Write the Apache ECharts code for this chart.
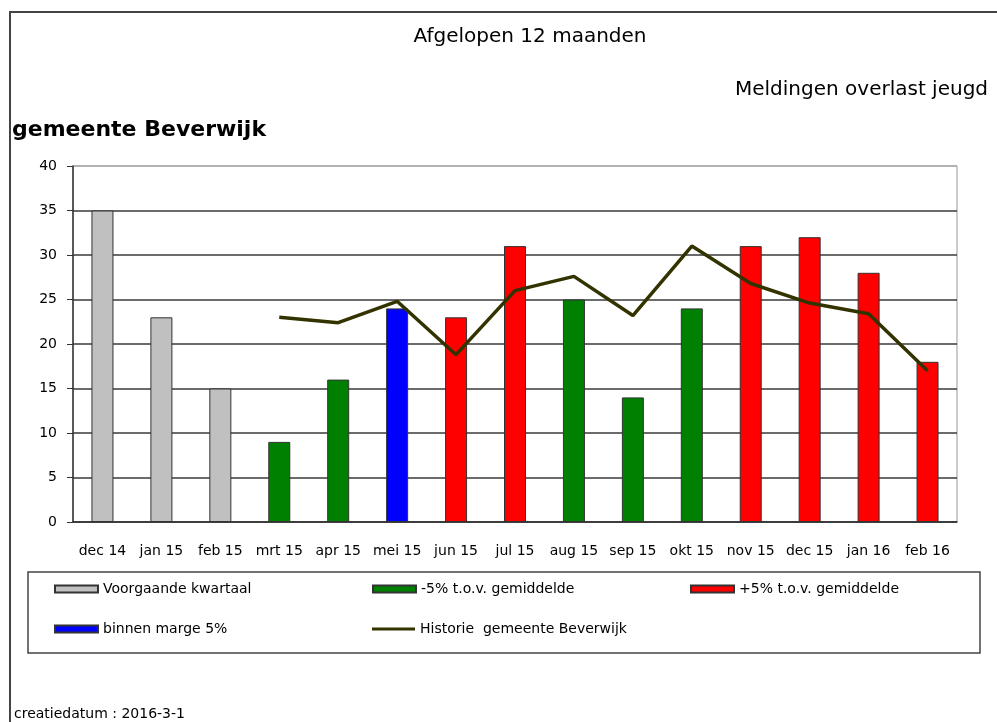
<!DOCTYPE html>
<html>
<head>
<meta charset="utf-8">
<style>
  html, body { margin: 0; padding: 0; background: #fff; }
  #chart { width: 997px; height: 722px; }
</style>
<script src="https://cdn.jsdelivr.net/npm/echarts@6/dist/echarts.min.js"></script>
</head>
<body>
<div id="chart"></div>
<script>
// maanden op de x-as
var categories = ['dec 14', 'jan 15', 'feb 15', 'mrt 15', 'apr 15', 'mei 15', 'jun 15', 'jul 15',
    'aug 15', 'sep 15', 'okt 15', 'nov 15', 'dec 15', 'jan 16', 'feb 16'];

// aantallen per kleurgroep (null = andere groep)
var voorgaandeKwartaal = [35, 23, 15, null, null, null, null, null, null, null, null, null, null, null, null];
var onderGemiddelde = [null, null, null, 9, 16, null, null, null, 25, 14, 24, null, null, null, null];
var bovenGemiddelde = [null, null, null, null, null, null, 23, 31, null, null, null, 31, 32, 28, 18];
var binnenMarge = [null, null, null, null, null, 24, null, null, null, null, null, null, null, null, null];

// historie lijn
var historie = [null, null, null, 23, 22.4, 24.8, 18.8, 26, 27.6, 23.2, 31, 26.8, 24.6, 23.4, 17];

var FONT = 'DejaVu Sans';

var chart = echarts.init(document.getElementById('chart'));

function barSeries(name, color, data) {
    return {
        name: name,
        type: 'bar',
        data: data,
        barWidth: 22,
        barGap: '-100%',
        itemStyle: {
            color: color,
            borderColor: '#333',
            borderWidth: 1
        },
        z: 2
    };
}

function legendAt(name, left, top, height) {
    return {
        data: [{ name: name, icon: 'rect' }],
        left: left,
        top: top,
        itemWidth: 43,
        itemHeight: height,
        itemGap: 0,
        padding: 0,
        selectedMode: false,
        textStyle: { fontFamily: FONT, fontSize: 14, color: '#000' }
    };
}

var option = {
    backgroundColor: '#fff',
    animation: false,
    title: [
        {
            text: 'Afgelopen 12 maanden',
            left: 525,
            top: 22,
            textAlign: 'center',
            textStyle: { fontFamily: FONT, fontSize: 20, fontWeight: 'normal', color: '#000' }
        },
        {
            text: 'Meldingen overlast jeugd',
            left: 730,
            top: 75,
            textStyle: { fontFamily: FONT, fontSize: 20, fontWeight: 'normal', color: '#000' }
        },
        {
            text: 'gemeente Beverwijk',
            left: 12,
            top: 119,
            padding: 0,
            textStyle: { fontFamily: FONT, fontSize: 22, fontWeight: 'bold', color: '#000' }
        },
        {
            text: 'creatiedatum : 2016-3-1',
            left: 14,
            top: 707,
            padding: 0,
            textStyle: { fontFamily: FONT, fontSize: 14, fontWeight: 'normal', color: '#000' }
        }
    ],
    legend: [
        legendAt('Voorgaande kwartaal', 54, 582, 7),
        legendAt('-5% t.o.v. gemiddelde', 372, 582, 7),
        legendAt('+5% t.o.v. gemiddelde', 690, 582, 7),
        legendAt('binnen marge 5%', 54, 622, 7),
        legendAt('Historie  gemeente Beverwijk', 372, 622, 3)
    ],
    grid: {
        left: 73,
        right: 40,
        top: 166,
        bottom: 200,
        show: true,
        borderColor: '#999',
        borderWidth: 1
    },
    xAxis: {
        type: 'category',
        data: categories,
        axisLine: { lineStyle: { color: '#333', width: 1.5 } },
        axisTick: { length: 5, lineStyle: { color: '#333' } },
        axisLabel: { margin: 22, color: '#000', fontFamily: FONT, fontSize: 14, interval: 0 }
    },
    yAxis: {
        type: 'value',
        min: 0,
        max: 40,
        interval: 5,
        axisLine: { show: true, lineStyle: { color: '#333', width: 1.5 } },
        axisTick: { show: true, length: 6, lineStyle: { color: '#333' } },
        axisLabel: { margin: 16, color: '#000', fontFamily: FONT, fontSize: 14 },
        splitLine: {
            lineStyle: {
                color: ['#3a3a3a', '#3a3a3a', '#3a3a3a', '#3a3a3a', '#3a3a3a', '#3a3a3a', '#3a3a3a', '#3a3a3a', '#aaa'],
                width: 1.5
            }
        }
    },
    series: [
        barSeries('Voorgaande kwartaal', '#c0c0c0', voorgaandeKwartaal),
        barSeries('-5% t.o.v. gemiddelde', '#008000', onderGemiddelde),
        barSeries('+5% t.o.v. gemiddelde', '#ff0000', bovenGemiddelde),
        barSeries('binnen marge 5%', '#0000ff', binnenMarge),
        {
            name: 'Historie  gemeente Beverwijk',
            type: 'line',
            data: historie,
            symbol: 'none',
            lineStyle: { color: '#333300', width: 3.5 },
            itemStyle: { color: '#333300' },
            z: 5
        }
    ],
    graphic: [
        // kader om de hele grafiek
        {
            type: 'polyline',
            shape: { points: [[10, 730], [10, 12], [1000, 12]] },
            style: { stroke: '#444', lineWidth: 2, fill: null },
            silent: true
        },
        // kader om de legenda
        {
            type: 'rect',
            shape: { x: 28, y: 572, width: 952, height: 81 },
            style: { stroke: '#444', lineWidth: 1.5, fill: null },
            silent: true
        }
    ]
};

chart.setOption(option);
</script>
</body>
</html>
